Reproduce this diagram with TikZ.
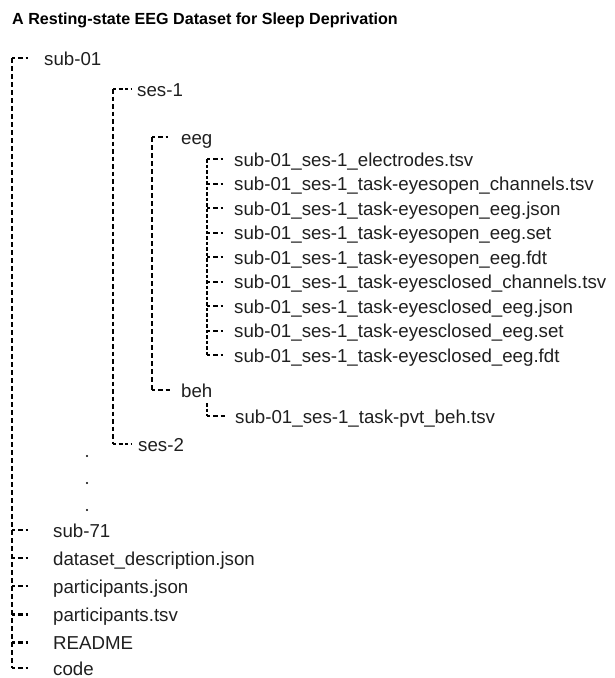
\documentclass[tikz,border=0pt]{standalone}
\usepackage{fontspec}
\setmainfont{Liberation Sans}
\begin{document}
\begin{tikzpicture}[x=1pt,y=-1pt,
  lbl/.style={anchor=base west,inner sep=0pt,text=black!88,font=\fontsize{18.7}{22}\selectfont},
  ttl/.style={anchor=base west,inner sep=0pt,font=\bfseries\fontsize{16.1}{19}\selectfont},
  lvA/.style={line width=2.4pt,dash pattern=on 5pt off 3pt},
  lvB/.style={line width=2pt,dash pattern=on 4.5pt off 3pt},
  lvC/.style={line width=1.6pt,dash pattern=on 3.5pt off 2pt},
  brA/.style={line width=2.4pt,dash pattern=on 3pt off 3pt on 4.5pt off 3pt on 4.5pt off 20pt},
  brC/.style={line width=2pt,dash pattern=on 3pt off 3pt on 4.5pt off 3pt on 4.5pt off 20pt},
  brB/.style={line width=1.5pt,dash pattern=on 3pt off 2.5pt on 4pt off 2.5pt on 3pt off 2.5pt on 1.5pt off 20pt},
  dotmark/.style={circle,fill=black,inner sep=0pt,minimum size=2.4pt},
]
\useasboundingbox (0,0) rectangle (614,678);
\node[ttl] (title) at (12,24.5) {A Resting-state EEG Dataset for Sleep Deprivation};

% level 0
\coordinate (c01) at (12,58);   \coordinate (e01) at (28,58);
\node[lbl] (sub01) at (44,65) {sub-01};

% level 1 : ses
\coordinate (cs1) at (113,89);  \coordinate (es1) at (131,89);
\node[lbl] (ses1) at (137,96) {ses-1};
\coordinate (cs2) at (113,444); \coordinate (es2) at (131,444);
\node[lbl] (ses2) at (138,451) {ses-2};

% level 2 : eeg / beh
\coordinate (ceeg) at (152,137); \coordinate (eeeg) at (168,137);
\node[lbl] (eeg) at (181,144) {eeg};
\coordinate (cbeh) at (152,390); \coordinate (ebeh) at (170,390);
\node[lbl] (beh) at (181,397) {beh};

% level 3 : files
\foreach \i/\yy/\txt in {1/159/sub-01\_ses-1\_electrodes.tsv,
  2/183.5/sub-01\_ses-1\_task-eyesopen\_channels.tsv,
  3/208/sub-01\_ses-1\_task-eyesopen\_eeg.json,
  4/232.5/sub-01\_ses-1\_task-eyesopen\_eeg.set,
  5/257/sub-01\_ses-1\_task-eyesopen\_eeg.fdt,
  6/281.5/sub-01\_ses-1\_task-eyesclosed\_channels.tsv,
  7/306/sub-01\_ses-1\_task-eyesclosed\_eeg.json,
  8/330.5/sub-01\_ses-1\_task-eyesclosed\_eeg.set,
  9/355/sub-01\_ses-1\_task-eyesclosed\_eeg.fdt}{
  \coordinate (cf\i) at (207,\yy);
  \coordinate (ef\i) at (223,\yy);
  \node[lbl] (f\i) at (234,\yy+7) {\txt};
}
\coordinate (cpvt0) at (207,403);
\coordinate (cpvt) at (207,416); \coordinate (epvt) at (226,416);
\node[lbl] (pvt) at (235,423) {sub-01\_ses-1\_task-pvt\_beh.tsv};

% dots
\node[dotmark] (d1) at (87,456) {};
\node[dotmark] (d2) at (87,483) {};
\node[dotmark] (d3) at (87,510) {};

% bottom entries
\foreach \n/\yy/\txt in {s71/530/sub-71, dd/558/dataset\_description.json,
  pj/586/participants.json, pt/614.5/participants.tsv, rd/642.5/README, cd/668/code}{
  \coordinate (c\n) at (12,\yy);
  \coordinate (e\n) at (28,\yy);
  \node[lbl] (\n) at (53,\yy+7) {\txt};
}

% connectors
\draw[lvA] (c01) -- (ccd);
\foreach \n in {01,s71,dd,pj,pt,rd,cd}{ \draw[brA] (c\n) -- (e\n); }

\draw[lvB] (cs1) -- (cs2);
\draw[brB] (cs1) -- (es1);
\draw[brB] (cs2) -- (es2);

\draw[lvA] (ceeg) -- (cbeh);
\draw[brA] (ceeg) -- (eeeg);
\draw[brA] (cbeh) -- (ebeh);

\draw[lvC] (cf1) -- (cf9);
\foreach \i in {1,...,9}{ \draw[brC] (cf\i) -- (ef\i); }
\draw[lvC] (cpvt0) -- (cpvt);
\draw[brC] (cpvt) -- (epvt);
\end{tikzpicture}
\end{document}
